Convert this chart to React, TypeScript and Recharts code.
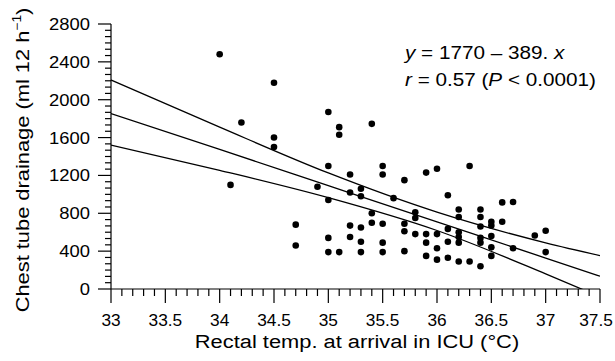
import React from 'react';
import { ComposedChart, Scatter, Line, XAxis, YAxis } from 'recharts';

// rectal temperature at ICU arrival (°C) and chest tube drainage (ml / 12 h)
const temps = [
  34.0, 34.5, 34.2, 35.0, 35.1, 35.1, 34.5, 34.5, 34.1, 35.0,
  34.9, 35.0, 34.7, 34.7, 35.0, 35.0, 35.1, 35.2, 35.2, 35.3,
  35.3, 35.3, 35.4, 35.4, 35.5, 35.5, 35.5, 35.7, 35.7, 35.7,
  35.7, 35.6, 35.3, 35.3, 35.2, 35.4, 35.2, 35.5, 35.5, 35.9,
  36.0, 35.8, 35.8, 35.8, 35.9, 36.0, 35.9, 36.0, 35.9, 36.0,
  36.3, 36.1, 36.6, 36.7, 36.2, 36.4, 36.2, 36.4, 36.4, 36.5,
  36.5, 36.6, 36.1, 36.2, 36.2, 36.2, 36.4, 36.4, 36.5, 36.1,
  36.5, 36.7, 36.5, 36.1, 36.2, 36.3, 36.4, 36.9, 37.0, 37.0,
];
const drainage = [
  2480, 2180, 1760, 1870, 1710, 1630, 1600, 1500, 1100, 1300,
  1080, 940, 680, 460, 540, 390, 390, 670, 550, 650,
  500, 390, 700, 800, 690, 490, 390, 400, 610, 690,
  1150, 960, 980, 1060, 1020, 1745, 1210, 1300, 1210, 1230,
  1270, 810, 750, 580, 580, 580, 490, 430, 350, 310,
  1300, 990, 915, 920, 840, 840, 760, 760, 660, 710,
  670, 710, 635, 600, 550, 490, 540, 490, 560, 500,
  440, 430, 350, 330, 290, 290, 240, 565, 615, 390,
];

// regression line and its 95% band, read at these temperatures
const fitTemps = [33, 34, 35, 36, 37, 37.5];
const fitMid = [1854, 1475, 1092, 709, 327, 135];
const fitUpper = [2209, 1710, 1226, 812, 488, 353];
const fitLower = [1521, 1254, 965, 618, 160, -83];

const xTicks = Array.from({ length: 46 }, (_, i) => Math.round((33 + i * 0.1) * 10) / 10);
const yTicks = Array.from({ length: 43 }, (_, i) => (i * 400) / 6);

const FONT = '"Liberation Sans", Arial, Helvetica, sans-serif';
const STRETCH = 1.15;

const points = temps.map((t, i) => ({ t, v: drainage[i] }));
const toLine = (vals: number[]) => fitTemps.map((t, i) => ({ t, v: vals[i] }));

function TempTick(props: any) {
  const { x, y, payload } = props;
  const v = payload.value as number;
  const major = Math.abs(v * 2 - Math.round(v * 2)) < 1e-6;
  // keep the last label inside the picture
  const lx = Math.min(x, 596);
  return (
    <g>
      <line x1={x} x2={x} y1={y} y2={y + (major ? 14 : 7)} stroke="#000" strokeWidth={1.2} />
      {major && (
        <text
          transform={`translate(${lx},${y + 37}) scale(1.08,1)`}
          textAnchor="middle"
          fontFamily={FONT}
          fontSize={16}
          fill="#000"
        >
          {String(Math.round(v * 10) / 10)}
        </text>
      )}
    </g>
  );
}

function DrainTick(props: any) {
  const { x, y, payload } = props;
  const v = payload.value as number;
  const major = Math.abs(v / 400 - Math.round(v / 400)) < 1e-6;
  return (
    <g>
      <line x1={x - (major ? 13 : 6)} x2={x} y1={y} y2={y} stroke="#000" strokeWidth={1.2} />
      {major && (
        <text
          transform={`translate(${x - 21},${y + 6}) scale(${STRETCH},1)`}
          textAnchor="end"
          fontFamily={FONT}
          fontSize={16}
          fill="#000"
        >
          {String(Math.round(v))}
        </text>
      )}
    </g>
  );
}

const Dot = (props: any) => <circle cx={props.cx} cy={props.cy} r={3.3} fill="#000" />;

export default function App() {
  return (
    <div style={{ position: 'absolute', left: 0, top: 0, width: 615, height: 361, background: '#fff' }}>
      <ComposedChart
        width={615}
        height={361}
        margin={{ top: 24, right: 15, bottom: 42, left: 51 }}
      >
        <XAxis
          type="number"
          dataKey="t"
          domain={[33, 37.5]}
          allowDataOverflow
          ticks={xTicks}
          interval={0}
          height={30}
          tickSize={0}
          tickMargin={0}
          tick={<TempTick />}
          axisLine={{ stroke: '#000', strokeWidth: 1.2 }}
          tickLine={false}
        />
        <YAxis
          type="number"
          dataKey="v"
          domain={[0, 2800]}
          allowDataOverflow
          ticks={yTicks}
          interval={0}
          width={60}
          tickSize={0}
          tickMargin={0}
          tick={<DrainTick />}
          axisLine={{ stroke: '#000', strokeWidth: 1.2 }}
          tickLine={false}
        />
        <Line data={toLine(fitUpper)} dataKey="v" type="monotone" stroke="#000" strokeWidth={1.3} dot={false} activeDot={false} isAnimationActive={false} />
        <Line data={toLine(fitMid)} dataKey="v" type="monotone" stroke="#000" strokeWidth={1.3} dot={false} activeDot={false} isAnimationActive={false} />
        <Line data={toLine(fitLower)} dataKey="v" type="monotone" stroke="#000" strokeWidth={1.3} dot={false} activeDot={false} isAnimationActive={false} />
        <Scatter data={points} dataKey="v" shape={Dot} isAnimationActive={false} />
      </ComposedChart>

      <svg
        width={615}
        height={361}
        style={{ position: 'absolute', left: 0, top: 0, pointerEvents: 'none' }}
        fontFamily={FONT}
        fill="#000"
      >
        <text transform={`translate(405,59) scale(${STRETCH},1)`} fontSize={18}>
          <tspan fontStyle="italic">y</tspan> = 1770 – 389. <tspan fontStyle="italic">x</tspan>
        </text>
        <text transform={`translate(405,86) scale(${STRETCH},1)`} fontSize={18}>
          <tspan fontStyle="italic">r</tspan> = 0.57 (<tspan fontStyle="italic">P</tspan> &lt; 0.0001)
        </text>
        <text transform={`translate(357,348) scale(${STRETCH},1)`} fontSize={19} textAnchor="middle">
          Rectal temp. at arrival in ICU (°C)
        </text>
        <text transform={`translate(29,160) rotate(-90) scale(${STRETCH},1)`} fontSize={19} textAnchor="middle">
          Chest tube drainage (ml 12 h
          <tspan fontSize={12} dy={-8}>−1</tspan>
          <tspan dy={8}>)</tspan>
        </text>
      </svg>
    </div>
  );
}
